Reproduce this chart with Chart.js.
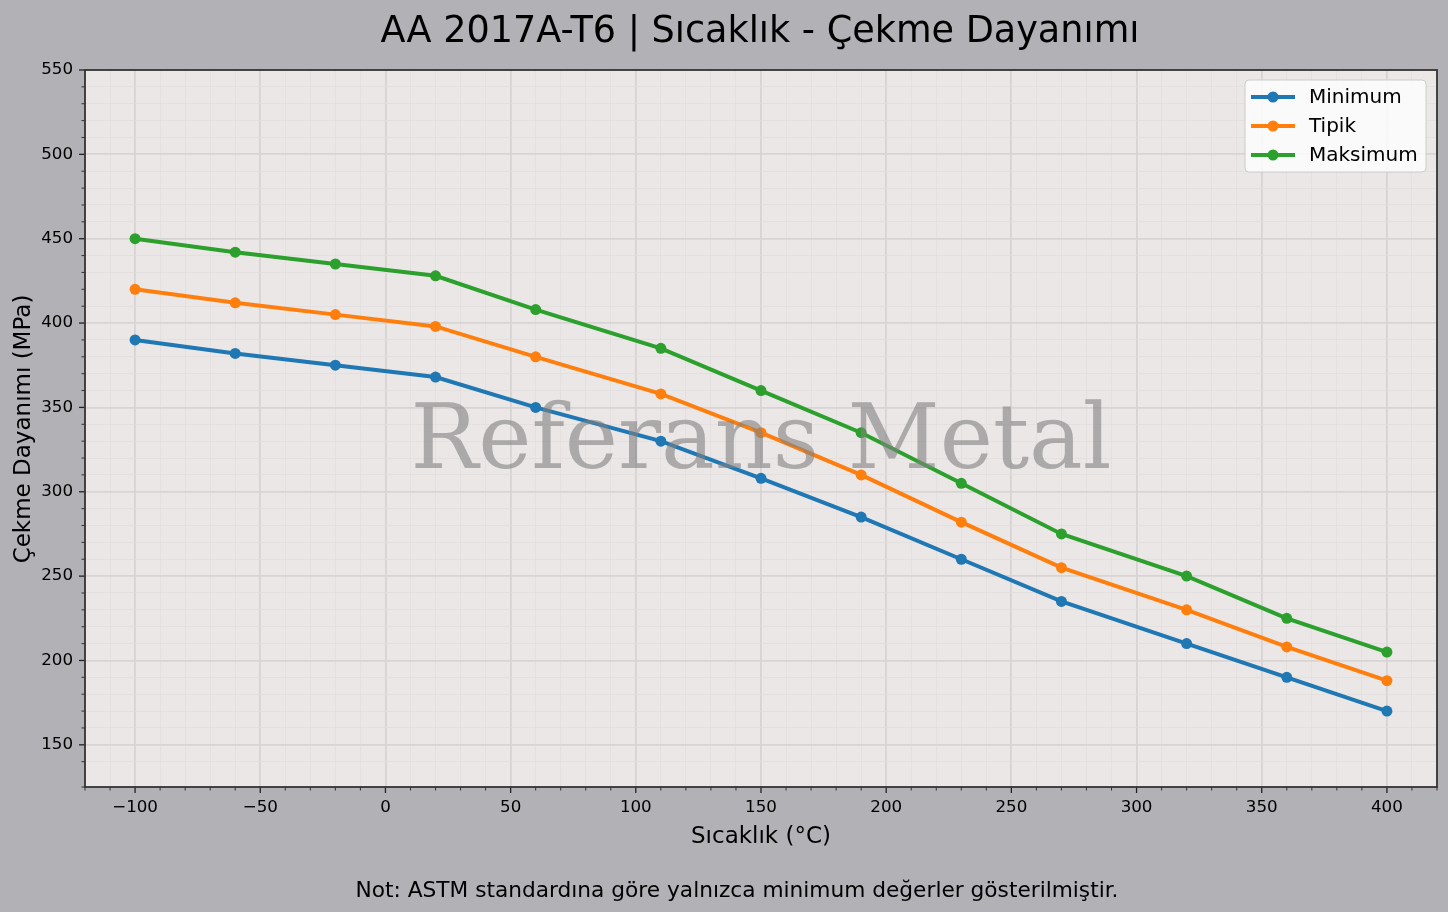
<!DOCTYPE html>
<html>
<head>
<meta charset="utf-8">
<script src="https://cdn.jsdelivr.net/npm/chart.js@4"></script>
<style>
  html, body { margin: 0; padding: 0; background: #b2b1b6; }
  canvas { display: block; }
</style>
</head>
<body>
<canvas id="chart" width="1448" height="912"></canvas>
<script>
// temperatures (°C)
const temps = [-100, -60, -20, 20, 60, 110, 150, 190, 230, 270, 320, 360, 400];
// tensile strength (MPa)
const minValues = [390, 382, 375, 368, 350, 330, 308, 285, 260, 235, 210, 190, 170];
const typValues = [420, 412, 405, 398, 380, 358, 335, 310, 282, 255, 230, 208, 188];
const maxValues = [450, 442, 435, 428, 408, 385, 360, 335, 305, 275, 250, 225, 205];
const seriesNames = ['Minimum', 'Tipik', 'Maksimum'];
const seriesColors = ['#1f77b4', '#ff7f0e', '#2ca02c'];

const titleText = 'AA 2017A-T6 | Sıcaklık - Çekme Dayanımı';
const xLabel = 'Sıcaklık (°C)';
const yLabel = 'Çekme Dayanımı (MPa)';
const noteText = 'Not: ASTM standardına göre yalnızca minimum değerler gösterilmiştir.';
const watermark = 'Referans Metal';

const FONT = "'DejaVu Sans', sans-serif";

function toPoints(vals) {
  return temps.map((t, i) => ({ x: t, y: vals[i] }));
}

const isMajor = v => Math.abs(v % 50) < 1e-6;

const fmt = v => {
  if (!isMajor(v)) return '';
  return v < 0 ? '\u2212' + Math.abs(v) : String(v);
};

const gridColor = ctx => {
  const v = ctx.tick.value;
  if (v === 125 || v === -120 || v === 420 || v === 550) return 'rgba(0,0,0,0)';
  return isMajor(v) ? '#d8d4d3' : '#e2dedd';
};
const gridWidth = ctx => isMajor(ctx.tick.value) ? 1.8 : 0.8;

// plot background, ticks, spines, texts, legend, watermark
const decor = {
  id: 'decor',
  beforeDraw(chart) {
    const { ctx, chartArea: a } = chart;
    ctx.save();
    ctx.fillStyle = '#b2b1b6';
    ctx.fillRect(0, 0, chart.width, chart.height);
    ctx.fillStyle = '#ebe7e6';
    ctx.fillRect(a.left, a.top, a.right - a.left, a.bottom - a.top);
    ctx.restore();
  },
  afterDatasetsDraw(chart) {
    const { ctx, chartArea: a } = chart;
    ctx.save();
    // watermark over lines
    ctx.font = "90px 'DejaVu Serif', serif";
    ctx.fillStyle = 'rgba(128,128,128,0.6)';
    ctx.textAlign = 'center';
    ctx.textBaseline = 'alphabetic';
    ctx.fillText(watermark, 761, 468);

    // ticks
    ctx.strokeStyle = '#222';
    const xs = chart.scales.x, ys = chart.scales.y;
    xs.ticks.forEach(t => {
      const px = xs.getPixelForValue(t.value);
      const len = isMajor(t.value) ? 6 : 3.5;
      ctx.lineWidth = isMajor(t.value) ? 1.3 : 0.9;
      ctx.beginPath();
      ctx.moveTo(px, a.bottom);
      ctx.lineTo(px, a.bottom + len);
      ctx.stroke();
    });
    ys.ticks.forEach(t => {
      const py = ys.getPixelForValue(t.value);
      const len = isMajor(t.value) ? 6 : 3.5;
      ctx.lineWidth = isMajor(t.value) ? 1.3 : 0.9;
      ctx.beginPath();
      ctx.moveTo(a.left, py);
      ctx.lineTo(a.left - len, py);
      ctx.stroke();
    });

    // spines
    ctx.strokeStyle = '#333';
    ctx.lineWidth = 1.8;
    ctx.strokeRect(a.left, a.top, a.right - a.left, a.bottom - a.top);

    // texts
    ctx.fillStyle = '#000';
    ctx.textAlign = 'center';
    ctx.font = '36.6px ' + FONT;
    ctx.fillText(titleText, 760, 42);
    ctx.font = '23px ' + FONT;
    ctx.fillText(xLabel, 761, 843);
    ctx.font = '21.7px ' + FONT;
    ctx.fillText(noteText, 737, 897);
    ctx.font = '23px ' + FONT;
    ctx.save();
    ctx.translate(30, 429);
    ctx.rotate(-Math.PI / 2);
    ctx.textBaseline = 'alphabetic';
    ctx.fillText(yLabel, 0, 0);
    ctx.restore();

    // legend
    const lx = 1245, ly = 80, lw = 181, lh = 92;
    ctx.fillStyle = 'rgba(255,255,255,0.8)';
    ctx.strokeStyle = '#cccccc';
    ctx.lineWidth = 1;
    ctx.beginPath();
    ctx.roundRect(lx, ly, lw, lh, 4);
    ctx.fill();
    ctx.stroke();
    ctx.font = '20px ' + FONT;
    ctx.textAlign = 'left';
    ctx.textBaseline = 'middle';
    chart.data.datasets.forEach((ds, i) => {
      const y = 97 + i * 29;
      ctx.strokeStyle = ds.borderColor;
      ctx.lineWidth = 4;
      ctx.beginPath();
      ctx.moveTo(1251, y);
      ctx.lineTo(1295, y);
      ctx.stroke();
      ctx.fillStyle = ds.borderColor;
      ctx.beginPath();
      ctx.arc(1273, y, 5.5, 0, Math.PI * 2);
      ctx.fill();
      ctx.fillStyle = '#000';
      ctx.fillText(ds.label, 1309, y + 1);
    });
    ctx.restore();
  }
};

const datasets = [minValues, typValues, maxValues].map((vals, i) => ({
  label: seriesNames[i],
  data: toPoints(vals),
  borderColor: seriesColors[i],
  backgroundColor: seriesColors[i],
  borderWidth: 4,
  pointRadius: 5.5,
  pointHoverRadius: 5.5,
  pointBorderWidth: 0,
  tension: 0,
  fill: false
}));

new Chart(document.getElementById('chart').getContext('2d'), {
  type: 'line',
  data: { datasets: datasets },
  plugins: [decor],
  options: {
    responsive: false,
    animation: false,
    devicePixelRatio: 1,
    layout: { padding: { left: 0, top: 70, right: 11, bottom: 0 } },
    plugins: {
      legend: { display: false },
      title: { display: false },
      tooltip: { enabled: false }
    },
    scales: {
      x: {
        type: 'linear',
        min: -120,
        max: 420,
        afterFit: s => { s.height = 125; },
        border: { display: false },
        grid: { color: gridColor, lineWidth: gridWidth, drawTicks: false },
        ticks: {
          stepSize: 10,
          autoSkip: false,
          maxRotation: 0,
          padding: 11,
          color: '#000',
          font: { family: FONT, size: 16.7 },
          callback: fmt
        }
      },
      y: {
        min: 125,
        max: 550,
        afterFit: s => { s.width = 85; },
        border: { display: false },
        grid: { color: gridColor, lineWidth: gridWidth, drawTicks: false },
        ticks: {
          stepSize: 10,
          autoSkip: false,
          padding: 12,
          color: '#000',
          font: { family: FONT, size: 16.7 },
          callback: fmt
        }
      }
    }
  }
});
</script>
</body>
</html>
